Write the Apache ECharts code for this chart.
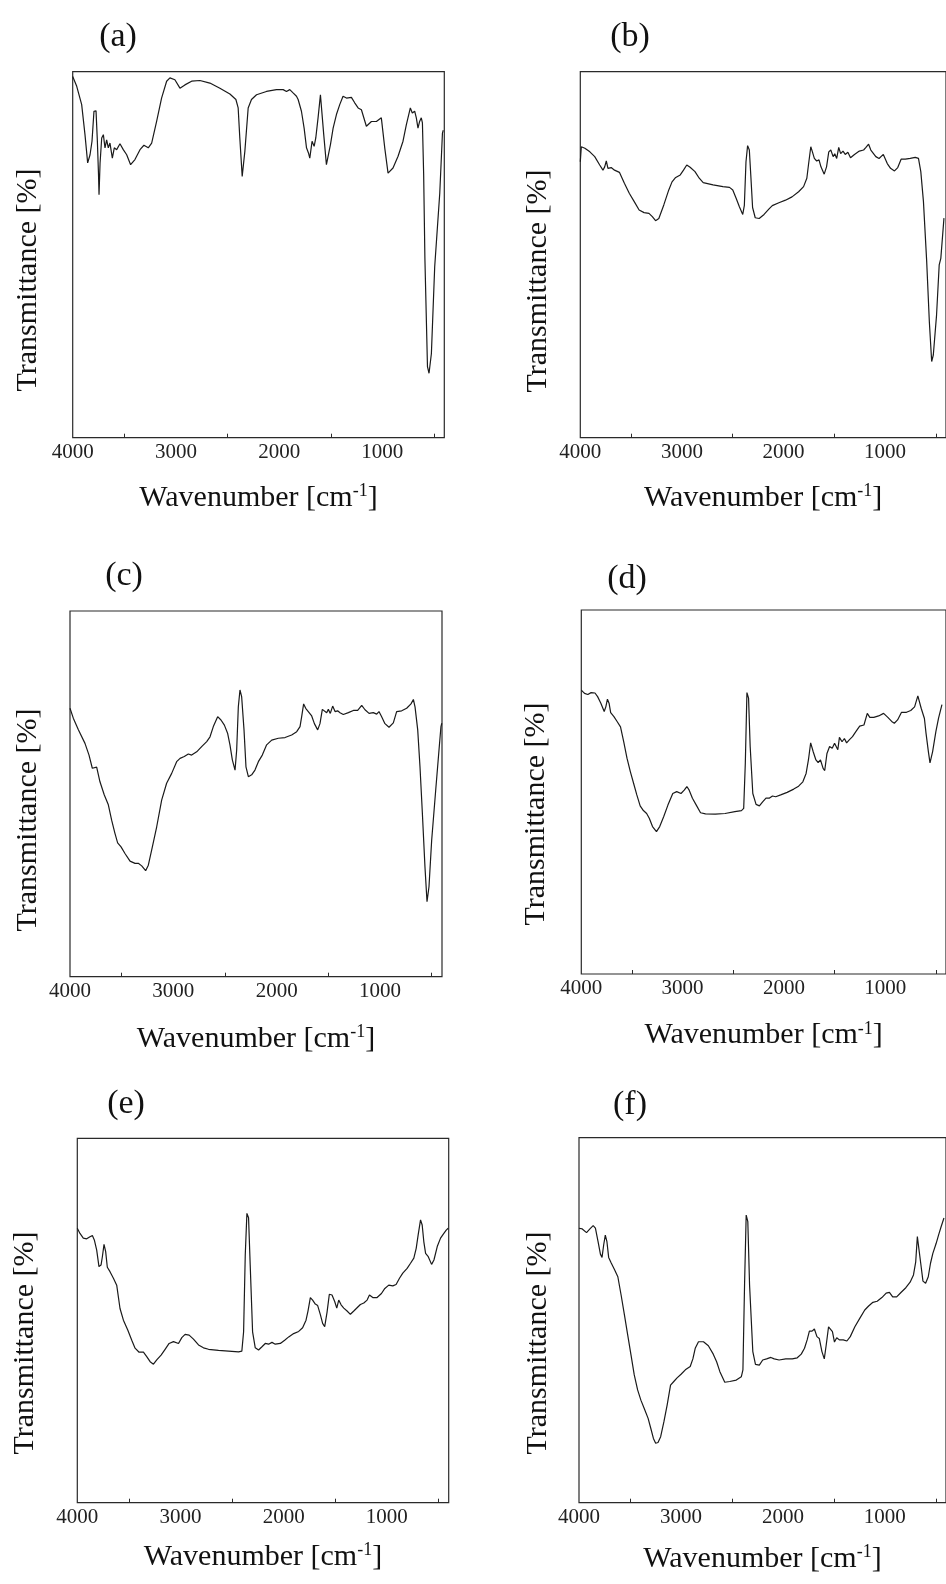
<!DOCTYPE html>
<html>
<head>
<meta charset="utf-8">
<script src="https://cdn.jsdelivr.net/npm/echarts@6/dist/echarts.min.js"></script>
<style>
html,body{margin:0;padding:0;background:#fff;}
#chart{width:946px;height:1584px;}
</style>
</head>
<body>
<div id="chart"></div>
<script>
// ---- tick labels / ticks ----
const tickLabels = [4000, 3000, 2000, 1000];
const minorTicks = [3500, 2500, 1500, 500];
const panelLabels = ['(a)', '(b)', '(c)', '(d)', '(e)', '(f)'];

// ---- (a) ----
const wnA = [4000,3961,3913,3881,3855,3832,3813,3794,3774,3761,3750,3745,3735,3719,3703,3687,3671,3655,3639,3616,3597,3574,3542,3510,3477,3439,3397,3348,3310,3268,3235,3187,3139,3090,3058,3010,2961,2913,2848,2768,2671,2574,2477,2419,2397,2381,2358,2332,2300,2268,2219,2123,2026,1961,1929,1897,1865,1832,1816,1784,1758,1735,1716,1703,1681,1661,1645,1623,1600,1584,1568,1542,1523,1503,1477,1461,1445,1413,1381,1348,1300,1268,1235,1203,1155,1106,1058,1042,1010,977,945,897,848,800,768,729,710,687,671,655,639,623,612,600,588,563,548,525,493,444,418,410];
const tA = [98.7,96.0,91.0,82.8,75.1,77.3,81.0,89.2,89.3,81.0,72,66.4,75,81.9,82.8,79.2,81.4,79.2,80.5,76.4,79.2,78.7,80.3,78.7,77.3,74.6,76.0,78.7,79.9,79.2,80.5,86.4,92.8,97.4,98.3,97.8,95.5,96.4,97.4,97.6,96.9,95.5,93.9,92.4,90.1,81.9,71.4,78.3,90.1,92.4,93.7,94.6,95.1,95.1,94.6,95.1,94.2,93.3,92.4,89.2,84.6,79.2,77.8,76.4,81.0,79.6,81.9,87.4,93.7,93.3,82.8,74.6,75.1,80.1,84.6,84.2,88.3,91.0,93.3,92.8,93.0,91.5,90.1,89.6,85.1,86.4,86.4,86.0,87.4,79.2,72.3,73.7,76.9,81.0,85.5,90.1,88.7,89.2,87.4,84.6,86.4,87.4,86,72,49,19.4,17.6,23,46.7,66.8,83.2,84];

// ---- (b) ----
const wnB = [4000,3990,3955,3906,3858,3809,3777,3760,3744,3728,3696,3663,3615,3566,3518,3469,3421,3372,3324,3291,3259,3227,3178,3129,3097,3065,3016,2984,2952,2919,2871,2829,2790,2693,2596,2531,2499,2466,2434,2401,2385,2369,2353,2336,2320,2304,2278,2239,2191,2142,2110,2045,1980,1916,1851,1802,1770,1754,1731,1715,1696,1673,1650,1631,1599,1576,1554,1534,1511,1495,1476,1456,1437,1414,1392,1366,1340,1301,1253,1211,1188,1162,1140,1091,1059,1017,978,946,907,875,842,800,752,703,671,648,622,590,564,541,525,493,467,451,420];
const tB = [75.4,79.5,79.1,78.1,76.8,74.5,73.1,74.0,75.6,73.6,73.8,73.1,72.5,69.5,66.8,64.5,62.2,61.5,61.3,60.4,59.3,59.9,63.6,67.7,69.9,71.0,71.8,73.1,74.5,73.9,72.7,70.9,69.7,69.1,68.6,68.4,67.7,65.4,63.1,61.0,63.5,75.4,79.8,78.6,70.9,62.9,60.1,59.9,61.0,62.5,63.4,64.2,64.9,65.8,67.2,68.6,70.9,74.5,79.5,78.1,76.3,75.6,75.9,74.0,72.0,74.0,78.1,78.6,76.8,77.6,76.3,79.3,77.6,78.3,77.4,78.0,76.5,77.4,78.3,78.6,79.3,80.2,78.6,76.8,76.3,77.4,74.9,73.6,72.9,73.8,76.1,76.1,76.3,76.6,76.3,72.7,64.5,48.1,31.7,20.8,22.6,33.5,47.2,49,60];

// ---- (c) ----
const wnC = [4000,3968,3919,3855,3816,3784,3765,3742,3710,3668,3629,3597,3565,3539,3506,3468,3419,3371,3339,3306,3268,3242,3203,3161,3113,3065,3016,2968,2935,2894,2855,2823,2774,2726,2677,2645,2613,2571,2539,2506,2474,2452,2429,2403,2387,2371,2355,2339,2316,2297,2274,2242,2210,2177,2139,2097,2048,1984,1919,1855,1806,1774,1758,1739,1719,1694,1661,1635,1603,1581,1558,1539,1516,1500,1481,1458,1435,1410,1387,1355,1306,1258,1216,1177,1145,1106,1065,1032,1010,984,952,913,871,839,790,742,700,677,661,635,613,590,565,545,526,500,461,429,410,402];
const tC = [73.4,70.7,67.5,63.8,60.6,57.0,56.7,57.3,53.3,49.7,47.0,42.8,39.2,36.6,35.5,33.7,31.6,31.0,31.0,30.3,29.0,30.5,35.5,41.0,48.3,52.9,55.6,58.8,59.7,60.2,60.9,60.6,61.5,62.9,64.3,65.6,68.4,71.1,70.2,68.8,66.5,63.4,59.3,56.5,62.0,73.8,78.4,76.6,67.5,57.4,54.7,55.2,56.5,58.8,60.6,63.4,64.7,65.2,65.4,66.1,67.0,68.4,71.1,74.6,73.4,72.5,71.3,69.2,67.5,69.2,73.1,73.5,72.2,73.1,72.0,74.0,72.5,72.7,72.2,71.7,72.2,72.8,72.8,74.2,73.0,72.0,72.2,71.8,72.5,71.1,69.2,68.2,69.4,72.5,72.7,73.4,74.6,75.8,73.8,67.5,57.4,44.7,30.1,20.5,24.6,37.3,51.0,62.0,68.4,69.3];

// ---- (d) ----
const wnD = [4000,3968,3936,3903,3865,3839,3807,3774,3758,3742,3726,3710,3678,3645,3613,3581,3549,3516,3484,3452,3419,3387,3355,3329,3297,3258,3226,3187,3145,3097,3058,3016,2984,2958,2935,2903,2865,2823,2774,2677,2581,2484,2419,2397,2381,2365,2349,2333,2307,2275,2242,2210,2177,2145,2113,2081,2032,1968,1903,1855,1813,1781,1758,1736,1710,1684,1662,1639,1613,1597,1575,1549,1523,1500,1468,1452,1426,1403,1381,1355,1323,1290,1252,1210,1177,1152,1113,1065,1016,974,936,910,878,839,790,748,710,678,645,613,597,574,558,532,500,474,440];
const tD = [78.0,77.1,76.8,77.3,77.2,76.2,74.4,72.1,73.4,75.5,74.4,71.8,70.7,69.3,67.9,63.8,59.3,55.6,52.4,49.2,46.2,44.9,44.1,42.8,40.5,39.1,40.5,43.2,46.4,49.6,50.1,49.6,50.5,51.5,50.5,48.3,46.4,44.3,44.0,43.9,44.1,44.6,44.9,45.5,57.9,77.3,75.8,62.5,49.6,46.6,46.2,47.3,48.3,48.3,48.9,48.7,49.2,49.9,50.8,51.6,52.8,55.1,58.8,63.5,61.0,58.8,58.1,58.8,56.5,55.9,60.6,62.5,62.0,63.4,61.6,65.0,63.8,64.7,63.5,64.3,65.2,66.6,68.1,68.4,71.6,70.5,70.5,70.9,71.6,70.5,69.4,68.9,69.8,71.9,71.9,72.4,73.4,76.4,73.0,70.2,66.1,61.1,58.0,61.1,66.6,70.2,74];

// ---- (e) ----
const wnE = [4000,3974,3942,3909,3877,3854,3835,3812,3790,3770,3757,3741,3725,3709,3683,3650,3618,3586,3553,3511,3472,3440,3401,3359,3327,3294,3262,3230,3188,3149,3110,3068,3019,2987,2955,2916,2874,2825,2777,2728,2631,2534,2437,2405,2388,2372,2356,2340,2324,2301,2275,2243,2210,2178,2146,2113,2081,2032,1990,1951,1903,1854,1816,1783,1764,1741,1719,1693,1670,1644,1622,1602,1579,1557,1531,1505,1485,1466,1443,1417,1385,1353,1320,1288,1256,1223,1191,1168,1136,1094,1052,1019,981,942,910,877,845,803,770,738,715,696,673,657,641,624,598,566,543,511,479,447,424,405];
const tE = [75.3,73.9,72.6,72.4,73.0,73.3,72.1,69.3,64.8,65.2,67.5,70.9,68.9,64.6,63.4,61.6,59.7,53.3,50.1,47.4,44.6,42.4,41.3,41.3,40.1,38.7,38.0,39.2,40.5,42.1,43.7,44.2,43.7,45.3,46.2,46.0,44.9,43.3,42.5,42.1,41.8,41.6,41.4,41.6,46.9,68.0,79.4,78.2,65.2,46.9,42.5,41.9,42.8,43.7,43.5,44.0,43.5,43.7,44.6,45.5,46.4,47.0,48.0,50.1,52.6,56.3,55.6,54.5,54.1,51.6,49.2,48.3,52.3,57.2,57.0,55.2,53.4,55.6,54.3,53.4,52.6,51.7,52.6,53.5,54.4,54.8,55.6,57.0,56.3,56.3,57.4,58.8,59.7,59.5,59.9,61.6,63.0,64.3,65.7,67.1,69.8,73.5,77.6,76.2,71.6,68.4,67.5,65.4,66.6,70.3,72.6,73.9,74.8,75.3];

// ---- (f) ----
const wnF = [4000,3968,3926,3893,3861,3839,3813,3790,3774,3758,3742,3726,3709,3684,3651,3619,3587,3554,3522,3490,3458,3425,3393,3361,3322,3296,3270,3248,3225,3199,3167,3135,3102,3070,3038,2999,2957,2909,2883,2860,2828,2779,2731,2683,2650,2618,2570,2521,2457,2408,2392,2376,2360,2344,2327,2295,2269,2231,2198,2160,2118,2085,2037,1972,1908,1859,1820,1788,1762,1740,1714,1691,1666,1643,1617,1594,1575,1552,1533,1514,1494,1472,1446,1408,1372,1339,1294,1246,1197,1159,1117,1075,1029,987,955,923,884,842,794,752,719,697,681,665,648,626,600,574,552,529,497,471,448,420];
const tF = [75.2,75.0,74.0,75.0,75.9,75.2,71.5,68.1,67.2,70.6,73.3,71.5,67.2,65.7,63.8,61.9,56.9,51.4,45.9,40.5,35.0,30.9,28.1,25.9,23.1,20.4,17.6,16.3,16.5,18.1,22.2,26.8,32.2,33.2,34.2,35.2,36.4,37.3,39.4,42.3,44.1,44.1,43.0,40.7,38.6,35.9,33.0,33.2,33.6,34.5,36.4,59.7,78.8,77.0,59.7,41.4,37.9,37.7,39.1,39.4,39.8,39.4,39.1,39.4,39.4,39.7,40.7,42.3,44.6,47.0,47.0,47.6,45.5,45.0,41.4,39.4,43.2,48.2,48.7,46.9,44.0,45.2,44.6,44.6,44.3,45.5,48.2,50.5,52.8,53.9,54.9,55.2,56.2,57.4,57.6,56.4,56.4,57.6,58.9,60.4,62.4,66.0,72.9,72.4,65.6,60.7,60.1,61.9,65.6,68.3,71.0,73.5,75.6,78];

const panels = [
  {wn: wnA, t: tA}, {wn: wnB, t: tB}, {wn: wnC, t: tC},
  {wn: wnD, t: tD}, {wn: wnE, t: tE}, {wn: wnF, t: tF}
];

// ---- layout (plot boxes in px) ----
const boxes = [
  {left: 72.7, top: 71.7, width: 371.6, height: 366, gap: 45, title: [118, 37], ylab: [28, 280]},
  {left: 580.3, top: 71.7, width: 370.7, height: 366, gap: 45, title: [630, 37], ylab: [538, 281]},
  {left: 70, top: 611, width: 372, height: 365.7, gap: 47, title: [124, 576], ylab: [28, 820]},
  {left: 581.3, top: 610, width: 371.6, height: 364, gap: 46, title: [627, 579], ylab: [536, 814]},
  {left: 77.3, top: 1138.3, width: 371.4, height: 364.4, gap: 39, title: [126, 1104], ylab: [25, 1343]},
  {left: 579, top: 1137.7, width: 371.5, height: 365, gap: 41, title: [630, 1105], ylab: [538, 1343]}
];

const FONT = '"Liberation Serif", "Times New Roman", serif';
const grids = [], xAxes = [], yAxes = [], series = [], graphics = [];

boxes.forEach((b, i) => {
  grids.push({left: b.left, top: b.top, width: b.width, height: b.height,
    show: true, borderColor: '#2a2a2a', borderWidth: 1.2, backgroundColor: 'transparent'});
  xAxes.push({
    gridIndex: i, type: 'value', min: 400, max: 4000, inverse: true,
    axisLine: {show: false}, splitLine: {show: false},
    axisTick: {show: true, inside: true, length: 4, customValues: minorTicks, lineStyle: {color: '#2a2a2a', width: 1}},
    axisLabel: {customValues: tickLabels, margin: 4, fontFamily: FONT, fontSize: 21, color: '#222',
      formatter: v => String(v)},
    name: 'Wavenumber [cm{sup|-1}]', nameLocation: 'middle', nameGap: b.gap,
    nameTextStyle: {fontFamily: FONT, fontSize: 30, color: '#111',
      rich: {sup: {fontFamily: FONT, fontSize: 18, color: '#111', verticalAlign: 'top'}}}
  });
  yAxes.push({gridIndex: i, type: 'value', min: 0, max: 100, show: false});
  const p = panels[i];
  series.push({
    type: 'line', xAxisIndex: i, yAxisIndex: i,
    data: p.wn.map((w, k) => [w, p.t[k]]),
    showSymbol: false, symbol: 'none', smooth: false,
    lineStyle: {color: '#1a1a1a', width: 1.2}, silent: true
  });
  graphics.push({type: 'text', x: b.title[0], y: b.title[1],
    style: {text: panelLabels[i], align: 'center', verticalAlign: 'middle', fontFamily: FONT, fontSize: 34, fill: '#111'}});
  graphics.push({type: 'text', x: b.ylab[0], y: b.ylab[1], rotation: Math.PI / 2,
    style: {text: 'Transmittance [%]', align: 'center', verticalAlign: 'middle', fontFamily: FONT, fontSize: 30, fill: '#111'}});
});

const chart = echarts.init(document.getElementById('chart'), null, {renderer: 'canvas'});
chart.setOption({
  animation: false,
  backgroundColor: '#fff',
  grid: grids, xAxis: xAxes, yAxis: yAxes, series: series, graphic: graphics
});
</script>
</body>
</html>
